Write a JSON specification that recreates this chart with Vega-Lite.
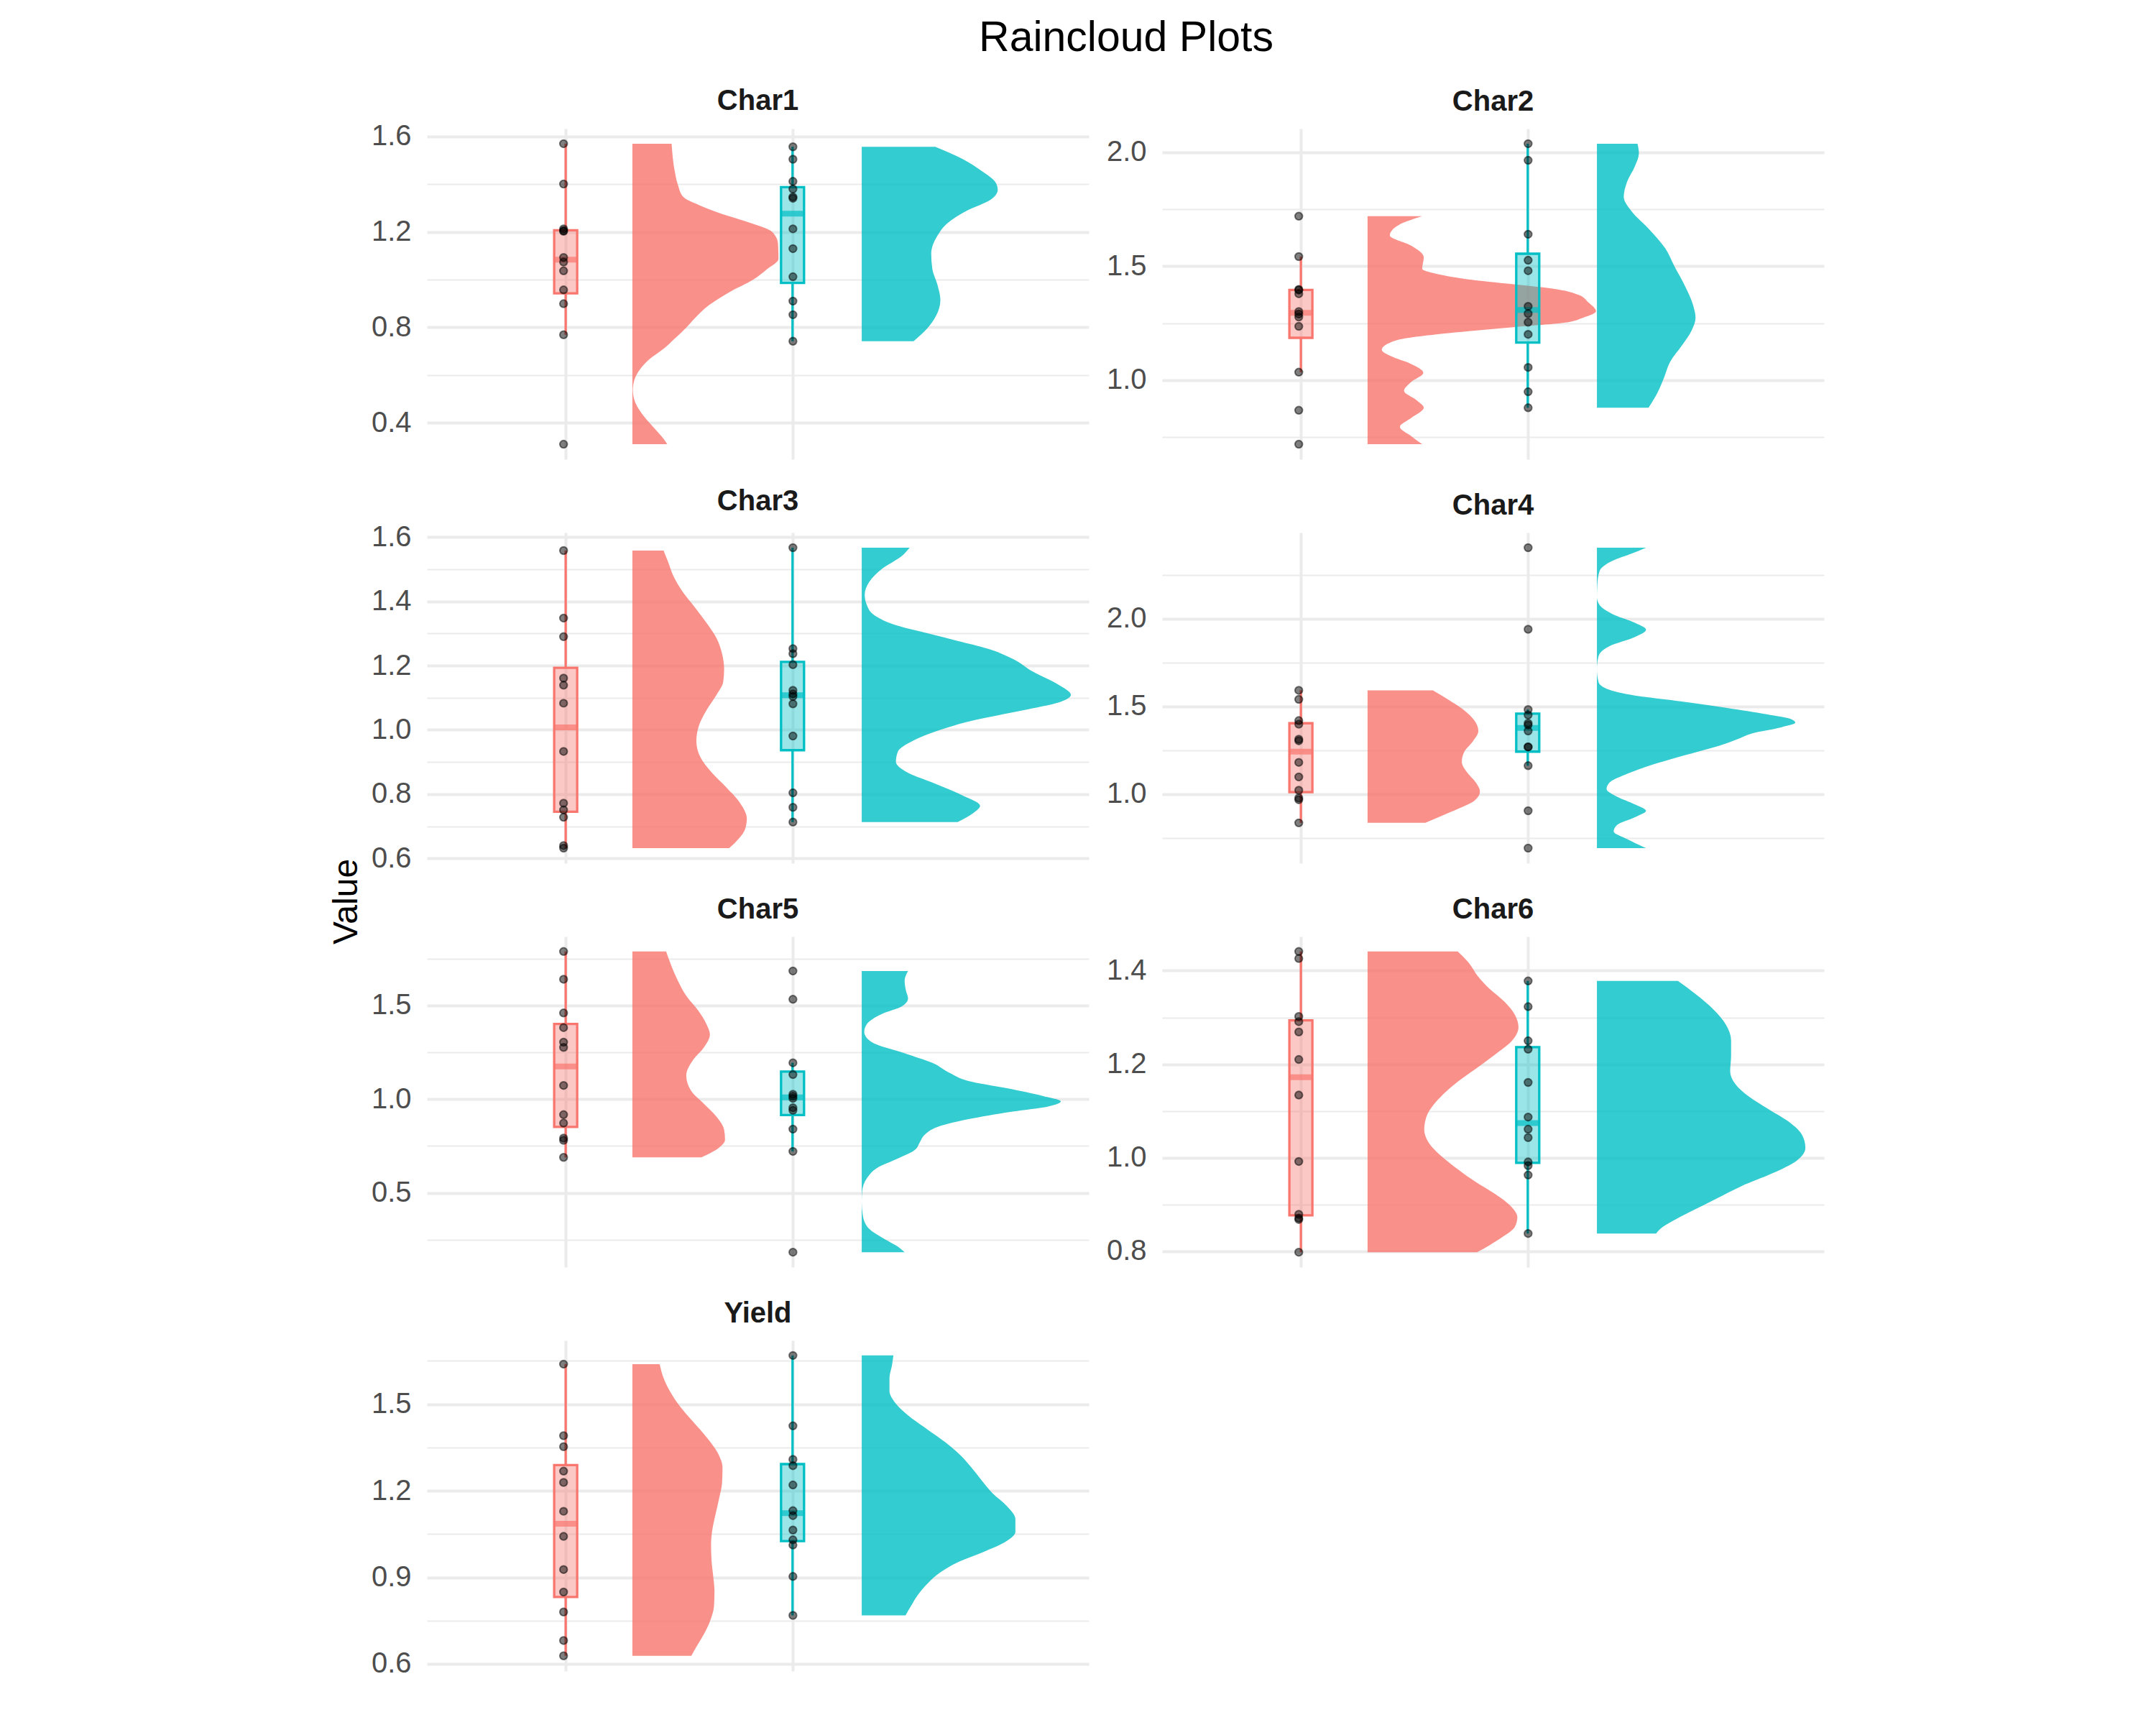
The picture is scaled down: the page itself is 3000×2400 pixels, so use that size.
{
"$schema": "https://vega.github.io/schema/vega-lite/v6.json",
"padding": {"left": 458, "top": 23, "right": 5, "bottom": 5},
"title": {"text": "Raincloud Plots", "fontSize": 59, "fontWeight": "normal", "color": "black", "anchor": "middle", "frame": "bounds", "dx": 69, "baseline": "alphabetic", "offset": -9, "font": "Liberation Sans"},
"config": {"view": {"stroke": null}, "font": "Liberation Sans", "title": {"font": "Liberation Sans"}},
"columns": 2,
"spacing": 102,
"bounds": "flush",
"datasets": {
"obs": [
{"Trait":"Char1","Group":1,"Value":1.570},{"Trait":"Char1","Group":1,"Value":1.401},{"Trait":"Char1","Group":1,"Value":1.203},{"Trait":"Char1","Group":1,"Value":1.213},{"Trait":"Char1","Group":1,"Value":1.205},{"Trait":"Char1","Group":1,"Value":1.093},{"Trait":"Char1","Group":1,"Value":1.074},{"Trait":"Char1","Group":1,"Value":1.037},{"Trait":"Char1","Group":1,"Value":0.957},{"Trait":"Char1","Group":1,"Value":0.899},{"Trait":"Char1","Group":1,"Value":0.769},{"Trait":"Char1","Group":1,"Value":0.310},
{"Trait":"Char1","Group":2,"Value":1.557},{"Trait":"Char1","Group":2,"Value":1.505},{"Trait":"Char1","Group":2,"Value":1.412},{"Trait":"Char1","Group":2,"Value":1.380},{"Trait":"Char1","Group":2,"Value":1.347},{"Trait":"Char1","Group":2,"Value":1.341},{"Trait":"Char1","Group":2,"Value":1.213},{"Trait":"Char1","Group":2,"Value":1.130},{"Trait":"Char1","Group":2,"Value":1.012},{"Trait":"Char1","Group":2,"Value":0.910},{"Trait":"Char1","Group":2,"Value":0.853},{"Trait":"Char1","Group":2,"Value":0.742},
{"Trait":"Char2","Group":1,"Value":1.719},{"Trait":"Char2","Group":1,"Value":1.542},{"Trait":"Char2","Group":1,"Value":1.395},{"Trait":"Char2","Group":1,"Value":1.398},{"Trait":"Char2","Group":1,"Value":1.379},{"Trait":"Char2","Group":1,"Value":1.301},{"Trait":"Char2","Group":1,"Value":1.290},{"Trait":"Char2","Group":1,"Value":1.277},{"Trait":"Char2","Group":1,"Value":1.236},{"Trait":"Char2","Group":1,"Value":1.035},{"Trait":"Char2","Group":1,"Value":0.868},{"Trait":"Char2","Group":1,"Value":0.719},
{"Trait":"Char2","Group":2,"Value":2.037},{"Trait":"Char2","Group":2,"Value":1.964},{"Trait":"Char2","Group":2,"Value":1.640},{"Trait":"Char2","Group":2,"Value":1.526},{"Trait":"Char2","Group":2,"Value":1.480},{"Trait":"Char2","Group":2,"Value":1.324},{"Trait":"Char2","Group":2,"Value":1.292},{"Trait":"Char2","Group":2,"Value":1.254},{"Trait":"Char2","Group":2,"Value":1.201},{"Trait":"Char2","Group":2,"Value":1.056},{"Trait":"Char2","Group":2,"Value":0.949},{"Trait":"Char2","Group":2,"Value":0.879},
{"Trait":"Char3","Group":1,"Value":1.558},{"Trait":"Char3","Group":1,"Value":1.348},{"Trait":"Char3","Group":1,"Value":1.290},{"Trait":"Char3","Group":1,"Value":1.161},{"Trait":"Char3","Group":1,"Value":1.139},{"Trait":"Char3","Group":1,"Value":1.083},{"Trait":"Char3","Group":1,"Value":0.933},{"Trait":"Char3","Group":1,"Value":0.772},{"Trait":"Char3","Group":1,"Value":0.751},{"Trait":"Char3","Group":1,"Value":0.728},{"Trait":"Char3","Group":1,"Value":0.640},{"Trait":"Char3","Group":1,"Value":0.632},
{"Trait":"Char3","Group":2,"Value":1.567},{"Trait":"Char3","Group":2,"Value":1.253},{"Trait":"Char3","Group":2,"Value":1.237},{"Trait":"Char3","Group":2,"Value":1.203},{"Trait":"Char3","Group":2,"Value":1.123},{"Trait":"Char3","Group":2,"Value":1.104},{"Trait":"Char3","Group":2,"Value":1.112},{"Trait":"Char3","Group":2,"Value":1.081},{"Trait":"Char3","Group":2,"Value":0.981},{"Trait":"Char3","Group":2,"Value":0.804},{"Trait":"Char3","Group":2,"Value":0.759},{"Trait":"Char3","Group":2,"Value":0.713},
{"Trait":"Char4","Group":1,"Value":1.592},{"Trait":"Char4","Group":1,"Value":1.540},{"Trait":"Char4","Group":1,"Value":1.419},{"Trait":"Char4","Group":1,"Value":1.399},{"Trait":"Char4","Group":1,"Value":1.304},{"Trait":"Char4","Group":1,"Value":1.313},{"Trait":"Char4","Group":1,"Value":1.181},{"Trait":"Char4","Group":1,"Value":1.098},{"Trait":"Char4","Group":1,"Value":1.022},{"Trait":"Char4","Group":1,"Value":0.978},{"Trait":"Char4","Group":1,"Value":0.968},{"Trait":"Char4","Group":1,"Value":0.836},
{"Trait":"Char4","Group":2,"Value":2.405},{"Trait":"Char4","Group":2,"Value":1.940},{"Trait":"Char4","Group":2,"Value":1.482},{"Trait":"Char4","Group":2,"Value":1.451},{"Trait":"Char4","Group":2,"Value":1.404},{"Trait":"Char4","Group":2,"Value":1.394},{"Trait":"Char4","Group":2,"Value":1.360},{"Trait":"Char4","Group":2,"Value":1.269},{"Trait":"Char4","Group":2,"Value":1.269},{"Trait":"Char4","Group":2,"Value":1.162},{"Trait":"Char4","Group":2,"Value":0.905},{"Trait":"Char4","Group":2,"Value":0.692},
{"Trait":"Char5","Group":1,"Value":1.788},{"Trait":"Char5","Group":1,"Value":1.640},{"Trait":"Char5","Group":1,"Value":1.460},{"Trait":"Char5","Group":1,"Value":1.382},{"Trait":"Char5","Group":1,"Value":1.304},{"Trait":"Char5","Group":1,"Value":1.276},{"Trait":"Char5","Group":1,"Value":1.073},{"Trait":"Char5","Group":1,"Value":0.917},{"Trait":"Char5","Group":1,"Value":0.872},{"Trait":"Char5","Group":1,"Value":0.792},{"Trait":"Char5","Group":1,"Value":0.780},{"Trait":"Char5","Group":1,"Value":0.689},
{"Trait":"Char5","Group":2,"Value":1.684},{"Trait":"Char5","Group":2,"Value":1.533},{"Trait":"Char5","Group":2,"Value":1.194},{"Trait":"Char5","Group":2,"Value":1.131},{"Trait":"Char5","Group":2,"Value":1.026},{"Trait":"Char5","Group":2,"Value":1.015},{"Trait":"Char5","Group":2,"Value":1.004},{"Trait":"Char5","Group":2,"Value":0.954},{"Trait":"Char5","Group":2,"Value":0.940},{"Trait":"Char5","Group":2,"Value":0.840},{"Trait":"Char5","Group":2,"Value":0.721},{"Trait":"Char5","Group":2,"Value":0.183},
{"Trait":"Char6","Group":1,"Value":1.441},{"Trait":"Char6","Group":1,"Value":1.426},{"Trait":"Char6","Group":1,"Value":1.302},{"Trait":"Char6","Group":1,"Value":1.291},{"Trait":"Char6","Group":1,"Value":1.269},{"Trait":"Char6","Group":1,"Value":1.210},{"Trait":"Char6","Group":1,"Value":1.134},{"Trait":"Char6","Group":1,"Value":0.992},{"Trait":"Char6","Group":1,"Value":0.871},{"Trait":"Char6","Group":1,"Value":0.879},{"Trait":"Char6","Group":1,"Value":0.868},{"Trait":"Char6","Group":1,"Value":0.798},
{"Trait":"Char6","Group":2,"Value":1.378},{"Trait":"Char6","Group":2,"Value":1.323},{"Trait":"Char6","Group":2,"Value":1.250},{"Trait":"Char6","Group":2,"Value":1.232},{"Trait":"Char6","Group":2,"Value":1.161},{"Trait":"Char6","Group":2,"Value":1.087},{"Trait":"Char6","Group":2,"Value":1.061},{"Trait":"Char6","Group":2,"Value":1.043},{"Trait":"Char6","Group":2,"Value":0.991},{"Trait":"Char6","Group":2,"Value":0.983},{"Trait":"Char6","Group":2,"Value":0.963},{"Trait":"Char6","Group":2,"Value":0.838},
{"Trait":"Yield","Group":1,"Value":1.639},{"Trait":"Yield","Group":1,"Value":1.391},{"Trait":"Yield","Group":1,"Value":1.353},{"Trait":"Yield","Group":1,"Value":1.268},{"Trait":"Yield","Group":1,"Value":1.229},{"Trait":"Yield","Group":1,"Value":1.129},{"Trait":"Yield","Group":1,"Value":1.042},{"Trait":"Yield","Group":1,"Value":0.927},{"Trait":"Yield","Group":1,"Value":0.849},{"Trait":"Yield","Group":1,"Value":0.780},{"Trait":"Yield","Group":1,"Value":0.681},{"Trait":"Yield","Group":1,"Value":0.628},
{"Trait":"Yield","Group":2,"Value":1.669},{"Trait":"Yield","Group":2,"Value":1.425},{"Trait":"Yield","Group":2,"Value":1.309},{"Trait":"Yield","Group":2,"Value":1.287},{"Trait":"Yield","Group":2,"Value":1.220},{"Trait":"Yield","Group":2,"Value":1.131},{"Trait":"Yield","Group":2,"Value":1.114},{"Trait":"Yield","Group":2,"Value":1.064},{"Trait":"Yield","Group":2,"Value":1.030},{"Trait":"Yield","Group":2,"Value":1.012},{"Trait":"Yield","Group":2,"Value":0.903},{"Trait":"Yield","Group":2,"Value":0.768}
],
"dens": [
{"Trait":"Char1","Group":1,"Value":1.570,"Density":0.171},{"Trait":"Char1","Group":1,"Value":1.453,"Density":0.185},{"Trait":"Char1","Group":1,"Value":1.399,"Density":0.198},{"Trait":"Char1","Group":1,"Value":1.345,"Density":0.224},{"Trait":"Char1","Group":1,"Value":1.313,"Density":0.290},{"Trait":"Char1","Group":1,"Value":1.280,"Density":0.378},{"Trait":"Char1","Group":1,"Value":1.243,"Density":0.499},{"Trait":"Char1","Group":1,"Value":1.201,"Density":0.609},{"Trait":"Char1","Group":1,"Value":1.151,"Density":0.635},{"Trait":"Char1","Group":1,"Value":1.087,"Density":0.637},{"Trait":"Char1","Group":1,"Value":1.044,"Density":0.587},{"Trait":"Char1","Group":1,"Value":1.000,"Density":0.527},{"Trait":"Char1","Group":1,"Value":0.947,"Density":0.422},{"Trait":"Char1","Group":1,"Value":0.893,"Density":0.334},{"Trait":"Char1","Group":1,"Value":0.839,"Density":0.273},{"Trait":"Char1","Group":1,"Value":0.799,"Density":0.235},{"Trait":"Char1","Group":1,"Value":0.753,"Density":0.185},{"Trait":"Char1","Group":1,"Value":0.710,"Density":0.136},{"Trait":"Char1","Group":1,"Value":0.667,"Density":0.075},{"Trait":"Char1","Group":1,"Value":0.624,"Density":0.033},{"Trait":"Char1","Group":1,"Value":0.581,"Density":0.009},{"Trait":"Char1","Group":1,"Value":0.538,"Density":0.002},{"Trait":"Char1","Group":1,"Value":0.484,"Density":0.013},{"Trait":"Char1","Group":1,"Value":0.430,"Density":0.048},{"Trait":"Char1","Group":1,"Value":0.376,"Density":0.097},{"Trait":"Char1","Group":1,"Value":0.333,"Density":0.136},{"Trait":"Char1","Group":1,"Value":0.310,"Density":0.152},
{"Trait":"Char1","Group":2,"Value":1.557,"Density":0.321},{"Trait":"Char1","Group":2,"Value":1.506,"Density":0.440},{"Trait":"Char1","Group":2,"Value":1.453,"Density":0.527},{"Trait":"Char1","Group":2,"Value":1.410,"Density":0.582},{"Trait":"Char1","Group":2,"Value":1.377,"Density":0.593},{"Trait":"Char1","Group":2,"Value":1.334,"Density":0.560},{"Trait":"Char1","Group":2,"Value":1.291,"Density":0.462},{"Trait":"Char1","Group":2,"Value":1.237,"Density":0.374},{"Trait":"Char1","Group":2,"Value":1.184,"Density":0.330},{"Trait":"Char1","Group":2,"Value":1.108,"Density":0.303},{"Trait":"Char1","Group":2,"Value":1.044,"Density":0.308},{"Trait":"Char1","Group":2,"Value":0.979,"Density":0.330},{"Trait":"Char1","Group":2,"Value":0.914,"Density":0.343},{"Trait":"Char1","Group":2,"Value":0.850,"Density":0.325},{"Trait":"Char1","Group":2,"Value":0.796,"Density":0.286},{"Trait":"Char1","Group":2,"Value":0.742,"Density":0.226},
{"Trait":"Char2","Group":1,"Value":1.719,"Density":0.238},{"Trait":"Char2","Group":1,"Value":1.680,"Density":0.135},{"Trait":"Char2","Group":1,"Value":1.635,"Density":0.097},{"Trait":"Char2","Group":1,"Value":1.590,"Density":0.190},{"Trait":"Char2","Group":1,"Value":1.539,"Density":0.245},{"Trait":"Char2","Group":1,"Value":1.488,"Density":0.238},{"Trait":"Char2","Group":1,"Value":1.466,"Density":0.300},{"Trait":"Char2","Group":1,"Value":1.443,"Density":0.433},{"Trait":"Char2","Group":1,"Value":1.421,"Density":0.631},{"Trait":"Char2","Group":1,"Value":1.398,"Density":0.830},{"Trait":"Char2","Group":1,"Value":1.375,"Density":0.918},{"Trait":"Char2","Group":1,"Value":1.342,"Density":0.962},{"Trait":"Char2","Group":1,"Value":1.302,"Density":0.996},{"Trait":"Char2","Group":1,"Value":1.274,"Density":0.940},{"Trait":"Char2","Group":1,"Value":1.251,"Density":0.852},{"Trait":"Char2","Group":1,"Value":1.234,"Density":0.653},{"Trait":"Char2","Group":1,"Value":1.218,"Density":0.477},{"Trait":"Char2","Group":1,"Value":1.201,"Density":0.300},{"Trait":"Char2","Group":1,"Value":1.184,"Density":0.168},{"Trait":"Char2","Group":1,"Value":1.161,"Density":0.091},{"Trait":"Char2","Group":1,"Value":1.133,"Density":0.062},{"Trait":"Char2","Group":1,"Value":1.105,"Density":0.102},{"Trait":"Char2","Group":1,"Value":1.071,"Density":0.190},{"Trait":"Char2","Group":1,"Value":1.032,"Density":0.243},{"Trait":"Char2","Group":1,"Value":0.992,"Density":0.190},{"Trait":"Char2","Group":1,"Value":0.953,"Density":0.159},{"Trait":"Char2","Group":1,"Value":0.913,"Density":0.212},{"Trait":"Char2","Group":1,"Value":0.879,"Density":0.245},{"Trait":"Char2","Group":1,"Value":0.834,"Density":0.190},{"Trait":"Char2","Group":1,"Value":0.795,"Density":0.141},{"Trait":"Char2","Group":1,"Value":0.755,"Density":0.190},{"Trait":"Char2","Group":1,"Value":0.719,"Density":0.238},
{"Trait":"Char2","Group":2,"Value":2.037,"Density":0.177},{"Trait":"Char2","Group":2,"Value":1.995,"Density":0.183},{"Trait":"Char2","Group":2,"Value":1.939,"Density":0.166},{"Trait":"Char2","Group":2,"Value":1.871,"Density":0.132},{"Trait":"Char2","Group":2,"Value":1.804,"Density":0.117},{"Trait":"Char2","Group":2,"Value":1.736,"Density":0.155},{"Trait":"Char2","Group":2,"Value":1.669,"Density":0.221},{"Trait":"Char2","Group":2,"Value":1.578,"Density":0.298},{"Trait":"Char2","Group":2,"Value":1.499,"Density":0.338},{"Trait":"Char2","Group":2,"Value":1.409,"Density":0.386},{"Trait":"Char2","Group":2,"Value":1.330,"Density":0.419},{"Trait":"Char2","Group":2,"Value":1.274,"Density":0.430},{"Trait":"Char2","Group":2,"Value":1.218,"Density":0.413},{"Trait":"Char2","Group":2,"Value":1.150,"Density":0.369},{"Trait":"Char2","Group":2,"Value":1.082,"Density":0.320},{"Trait":"Char2","Group":2,"Value":1.015,"Density":0.294},{"Trait":"Char2","Group":2,"Value":0.947,"Density":0.265},{"Trait":"Char2","Group":2,"Value":0.879,"Density":0.225},
{"Trait":"Char3","Group":1,"Value":1.558,"Density":0.136},{"Trait":"Char3","Group":1,"Value":1.526,"Density":0.154},{"Trait":"Char3","Group":1,"Value":1.477,"Density":0.180},{"Trait":"Char3","Group":1,"Value":1.429,"Density":0.220},{"Trait":"Char3","Group":1,"Value":1.381,"Density":0.273},{"Trait":"Char3","Group":1,"Value":1.333,"Density":0.323},{"Trait":"Char3","Group":1,"Value":1.285,"Density":0.367},{"Trait":"Char3","Group":1,"Value":1.237,"Density":0.391},{"Trait":"Char3","Group":1,"Value":1.189,"Density":0.400},{"Trait":"Char3","Group":1,"Value":1.149,"Density":0.396},{"Trait":"Char3","Group":1,"Value":1.109,"Density":0.367},{"Trait":"Char3","Group":1,"Value":1.061,"Density":0.323},{"Trait":"Char3","Group":1,"Value":1.013,"Density":0.290},{"Trait":"Char3","Group":1,"Value":0.965,"Density":0.279},{"Trait":"Char3","Group":1,"Value":0.917,"Density":0.295},{"Trait":"Char3","Group":1,"Value":0.868,"Density":0.345},{"Trait":"Char3","Group":1,"Value":0.820,"Density":0.411},{"Trait":"Char3","Group":1,"Value":0.772,"Density":0.470},{"Trait":"Char3","Group":1,"Value":0.724,"Density":0.499},{"Trait":"Char3","Group":1,"Value":0.692,"Density":0.492},{"Trait":"Char3","Group":1,"Value":0.660,"Density":0.462},{"Trait":"Char3","Group":1,"Value":0.632,"Density":0.422},
{"Trait":"Char3","Group":2,"Value":1.567,"Density":0.209},{"Trait":"Char3","Group":2,"Value":1.542,"Density":0.176},{"Trait":"Char3","Group":2,"Value":1.501,"Density":0.088},{"Trait":"Char3","Group":2,"Value":1.461,"Density":0.033},{"Trait":"Char3","Group":2,"Value":1.421,"Density":0.013},{"Trait":"Char3","Group":2,"Value":1.389,"Density":0.022},{"Trait":"Char3","Group":2,"Value":1.357,"Density":0.055},{"Trait":"Char3","Group":2,"Value":1.325,"Density":0.154},{"Trait":"Char3","Group":2,"Value":1.301,"Density":0.286},{"Trait":"Char3","Group":2,"Value":1.277,"Density":0.418},{"Trait":"Char3","Group":2,"Value":1.253,"Density":0.549},{"Trait":"Char3","Group":2,"Value":1.221,"Density":0.659},{"Trait":"Char3","Group":2,"Value":1.181,"Density":0.747},{"Trait":"Char3","Group":2,"Value":1.141,"Density":0.857},{"Trait":"Char3","Group":2,"Value":1.109,"Density":0.912},{"Trait":"Char3","Group":2,"Value":1.085,"Density":0.857},{"Trait":"Char3","Group":2,"Value":1.061,"Density":0.703},{"Trait":"Char3","Group":2,"Value":1.029,"Density":0.484},{"Trait":"Char3","Group":2,"Value":0.997,"Density":0.330},{"Trait":"Char3","Group":2,"Value":0.965,"Density":0.220},{"Trait":"Char3","Group":2,"Value":0.933,"Density":0.158},{"Trait":"Char3","Group":2,"Value":0.901,"Density":0.149},{"Trait":"Char3","Group":2,"Value":0.868,"Density":0.198},{"Trait":"Char3","Group":2,"Value":0.836,"Density":0.308},{"Trait":"Char3","Group":2,"Value":0.796,"Density":0.440},{"Trait":"Char3","Group":2,"Value":0.764,"Density":0.516},{"Trait":"Char3","Group":2,"Value":0.740,"Density":0.484},{"Trait":"Char3","Group":2,"Value":0.713,"Density":0.418},
{"Trait":"Char4","Group":1,"Value":1.592,"Density":0.285},{"Trait":"Char4","Group":1,"Value":1.536,"Density":0.355},{"Trait":"Char4","Group":1,"Value":1.477,"Density":0.422},{"Trait":"Char4","Group":1,"Value":1.419,"Density":0.466},{"Trait":"Char4","Group":1,"Value":1.360,"Density":0.483},{"Trait":"Char4","Group":1,"Value":1.301,"Density":0.459},{"Trait":"Char4","Group":1,"Value":1.242,"Density":0.422},{"Trait":"Char4","Group":1,"Value":1.184,"Density":0.411},{"Trait":"Char4","Group":1,"Value":1.125,"Density":0.433},{"Trait":"Char4","Group":1,"Value":1.066,"Density":0.472},{"Trait":"Char4","Group":1,"Value":1.015,"Density":0.490},{"Trait":"Char4","Group":1,"Value":0.963,"Density":0.466},{"Trait":"Char4","Group":1,"Value":0.919,"Density":0.400},{"Trait":"Char4","Group":1,"Value":0.875,"Density":0.322},{"Trait":"Char4","Group":1,"Value":0.836,"Density":0.252},
{"Trait":"Char4","Group":2,"Value":2.405,"Density":0.214},{"Trait":"Char4","Group":2,"Value":2.373,"Density":0.155},{"Trait":"Char4","Group":2,"Value":2.329,"Density":0.066},{"Trait":"Char4","Group":2,"Value":2.270,"Density":0.011},{"Trait":"Char4","Group":2,"Value":2.197,"Density":0.002},{"Trait":"Char4","Group":2,"Value":2.123,"Density":0.0},{"Trait":"Char4","Group":2,"Value":2.079,"Density":0.011},{"Trait":"Char4","Group":2,"Value":2.021,"Density":0.077},{"Trait":"Char4","Group":2,"Value":1.977,"Density":0.166},{"Trait":"Char4","Group":2,"Value":1.937,"Density":0.214},{"Trait":"Char4","Group":2,"Value":1.896,"Density":0.166},{"Trait":"Char4","Group":2,"Value":1.844,"Density":0.055},{"Trait":"Char4","Group":2,"Value":1.786,"Density":0.007},{"Trait":"Char4","Group":2,"Value":1.712,"Density":0.0},{"Trait":"Char4","Group":2,"Value":1.639,"Density":0.007},{"Trait":"Char4","Group":2,"Value":1.595,"Density":0.055},{"Trait":"Char4","Group":2,"Value":1.558,"Density":0.188},{"Trait":"Char4","Group":2,"Value":1.529,"Density":0.364},{"Trait":"Char4","Group":2,"Value":1.492,"Density":0.563},{"Trait":"Char4","Group":2,"Value":1.455,"Density":0.740},{"Trait":"Char4","Group":2,"Value":1.426,"Density":0.850},{"Trait":"Char4","Group":2,"Value":1.407,"Density":0.865},{"Trait":"Char4","Group":2,"Value":1.382,"Density":0.806},{"Trait":"Char4","Group":2,"Value":1.345,"Density":0.673},{"Trait":"Char4","Group":2,"Value":1.316,"Density":0.618},{"Trait":"Char4","Group":2,"Value":1.279,"Density":0.541},{"Trait":"Char4","Group":2,"Value":1.242,"Density":0.441},{"Trait":"Char4","Group":2,"Value":1.198,"Density":0.320},{"Trait":"Char4","Group":2,"Value":1.154,"Density":0.210},{"Trait":"Char4","Group":2,"Value":1.110,"Density":0.121},{"Trait":"Char4","Group":2,"Value":1.066,"Density":0.055},{"Trait":"Char4","Group":2,"Value":1.029,"Density":0.042},{"Trait":"Char4","Group":2,"Value":0.985,"Density":0.088},{"Trait":"Char4","Group":2,"Value":0.941,"Density":0.166},{"Trait":"Char4","Group":2,"Value":0.905,"Density":0.214},{"Trait":"Char4","Group":2,"Value":0.868,"Density":0.166},{"Trait":"Char4","Group":2,"Value":0.824,"Density":0.088},{"Trait":"Char4","Group":2,"Value":0.787,"Density":0.073},{"Trait":"Char4","Group":2,"Value":0.743,"Density":0.132},{"Trait":"Char4","Group":2,"Value":0.692,"Density":0.214},
{"Trait":"Char5","Group":1,"Value":1.788,"Density":0.147},{"Trait":"Char5","Group":1,"Value":1.715,"Density":0.169},{"Trait":"Char5","Group":1,"Value":1.633,"Density":0.198},{"Trait":"Char5","Group":1,"Value":1.551,"Density":0.235},{"Trait":"Char5","Group":1,"Value":1.468,"Density":0.290},{"Trait":"Char5","Group":1,"Value":1.400,"Density":0.323},{"Trait":"Char5","Group":1,"Value":1.345,"Density":0.338},{"Trait":"Char5","Group":1,"Value":1.276,"Density":0.312},{"Trait":"Char5","Group":1,"Value":1.208,"Density":0.264},{"Trait":"Char5","Group":1,"Value":1.126,"Density":0.235},{"Trait":"Char5","Group":1,"Value":1.043,"Density":0.257},{"Trait":"Char5","Group":1,"Value":0.975,"Density":0.312},{"Trait":"Char5","Group":1,"Value":0.906,"Density":0.367},{"Trait":"Char5","Group":1,"Value":0.837,"Density":0.400},{"Trait":"Char5","Group":1,"Value":0.783,"Density":0.404},{"Trait":"Char5","Group":1,"Value":0.741,"Density":0.378},{"Trait":"Char5","Group":1,"Value":0.689,"Density":0.301},
{"Trait":"Char5","Group":2,"Value":1.684,"Density":0.202},{"Trait":"Char5","Group":2,"Value":1.633,"Density":0.187},{"Trait":"Char5","Group":2,"Value":1.578,"Density":0.193},{"Trait":"Char5","Group":2,"Value":1.537,"Density":0.202},{"Trait":"Char5","Group":2,"Value":1.496,"Density":0.176},{"Trait":"Char5","Group":2,"Value":1.455,"Density":0.088},{"Trait":"Char5","Group":2,"Value":1.400,"Density":0.022},{"Trait":"Char5","Group":2,"Value":1.359,"Density":0.011},{"Trait":"Char5","Group":2,"Value":1.304,"Density":0.044},{"Trait":"Char5","Group":2,"Value":1.249,"Density":0.176},{"Trait":"Char5","Group":2,"Value":1.194,"Density":0.308},{"Trait":"Char5","Group":2,"Value":1.139,"Density":0.385},{"Trait":"Char5","Group":2,"Value":1.098,"Density":0.462},{"Trait":"Char5","Group":2,"Value":1.057,"Density":0.637},{"Trait":"Char5","Group":2,"Value":1.016,"Density":0.791},{"Trait":"Char5","Group":2,"Value":0.988,"Density":0.868},{"Trait":"Char5","Group":2,"Value":0.961,"Density":0.813},{"Trait":"Char5","Group":2,"Value":0.934,"Density":0.659},{"Trait":"Char5","Group":2,"Value":0.892,"Density":0.462},{"Trait":"Char5","Group":2,"Value":0.851,"Density":0.330},{"Trait":"Char5","Group":2,"Value":0.810,"Density":0.275},{"Trait":"Char5","Group":2,"Value":0.769,"Density":0.253},{"Trait":"Char5","Group":2,"Value":0.728,"Density":0.231},{"Trait":"Char5","Group":2,"Value":0.687,"Density":0.165},{"Trait":"Char5","Group":2,"Value":0.632,"Density":0.066},{"Trait":"Char5","Group":2,"Value":0.577,"Density":0.022},{"Trait":"Char5","Group":2,"Value":0.508,"Density":0.002},{"Trait":"Char5","Group":2,"Value":0.453,"Density":0.0},{"Trait":"Char5","Group":2,"Value":0.385,"Density":0.004},{"Trait":"Char5","Group":2,"Value":0.316,"Density":0.026},{"Trait":"Char5","Group":2,"Value":0.261,"Density":0.088},{"Trait":"Char5","Group":2,"Value":0.206,"Density":0.165},{"Trait":"Char5","Group":2,"Value":0.183,"Density":0.187},
{"Trait":"Char6","Group":1,"Value":1.441,"Density":0.393},{"Trait":"Char6","Group":1,"Value":1.415,"Density":0.444},{"Trait":"Char6","Group":1,"Value":1.388,"Density":0.481},{"Trait":"Char6","Group":1,"Value":1.361,"Density":0.532},{"Trait":"Char6","Group":1,"Value":1.333,"Density":0.598},{"Trait":"Char6","Group":1,"Value":1.306,"Density":0.642},{"Trait":"Char6","Group":1,"Value":1.279,"Density":0.658},{"Trait":"Char6","Group":1,"Value":1.251,"Density":0.631},{"Trait":"Char6","Group":1,"Value":1.224,"Density":0.565},{"Trait":"Char6","Group":1,"Value":1.196,"Density":0.488},{"Trait":"Char6","Group":1,"Value":1.169,"Density":0.411},{"Trait":"Char6","Group":1,"Value":1.142,"Density":0.344},{"Trait":"Char6","Group":1,"Value":1.114,"Density":0.289},{"Trait":"Char6","Group":1,"Value":1.087,"Density":0.256},{"Trait":"Char6","Group":1,"Value":1.060,"Density":0.247},{"Trait":"Char6","Group":1,"Value":1.032,"Density":0.267},{"Trait":"Char6","Group":1,"Value":1.005,"Density":0.318},{"Trait":"Char6","Group":1,"Value":0.977,"Density":0.389},{"Trait":"Char6","Group":1,"Value":0.950,"Density":0.466},{"Trait":"Char6","Group":1,"Value":0.923,"Density":0.554},{"Trait":"Char6","Group":1,"Value":0.895,"Density":0.627},{"Trait":"Char6","Group":1,"Value":0.873,"Density":0.653},{"Trait":"Char6","Group":1,"Value":0.852,"Density":0.642},{"Trait":"Char6","Group":1,"Value":0.830,"Density":0.587},{"Trait":"Char6","Group":1,"Value":0.813,"Density":0.532},{"Trait":"Char6","Group":1,"Value":0.798,"Density":0.477},
{"Trait":"Char6","Group":2,"Value":1.378,"Density":0.353},{"Trait":"Char6","Group":2,"Value":1.350,"Density":0.430},{"Trait":"Char6","Group":2,"Value":1.317,"Density":0.508},{"Trait":"Char6","Group":2,"Value":1.284,"Density":0.563},{"Trait":"Char6","Group":2,"Value":1.251,"Density":0.585},{"Trait":"Char6","Group":2,"Value":1.218,"Density":0.585},{"Trait":"Char6","Group":2,"Value":1.185,"Density":0.581},{"Trait":"Char6","Group":2,"Value":1.158,"Density":0.603},{"Trait":"Char6","Group":2,"Value":1.131,"Density":0.662},{"Trait":"Char6","Group":2,"Value":1.103,"Density":0.751},{"Trait":"Char6","Group":2,"Value":1.076,"Density":0.839},{"Trait":"Char6","Group":2,"Value":1.049,"Density":0.894},{"Trait":"Char6","Group":2,"Value":1.021,"Density":0.909},{"Trait":"Char6","Group":2,"Value":0.994,"Density":0.872},{"Trait":"Char6","Group":2,"Value":0.966,"Density":0.762},{"Trait":"Char6","Group":2,"Value":0.939,"Density":0.629},{"Trait":"Char6","Group":2,"Value":0.912,"Density":0.519},{"Trait":"Char6","Group":2,"Value":0.890,"Density":0.430},{"Trait":"Char6","Group":2,"Value":0.868,"Density":0.342},{"Trait":"Char6","Group":2,"Value":0.852,"Density":0.287},{"Trait":"Char6","Group":2,"Value":0.838,"Density":0.258},
{"Trait":"Yield","Group":1,"Value":1.639,"Density":0.119},{"Trait":"Yield","Group":1,"Value":1.591,"Density":0.136},{"Trait":"Yield","Group":1,"Value":1.546,"Density":0.163},{"Trait":"Yield","Group":1,"Value":1.493,"Density":0.207},{"Trait":"Yield","Group":1,"Value":1.440,"Density":0.264},{"Trait":"Yield","Group":1,"Value":1.386,"Density":0.323},{"Trait":"Yield","Group":1,"Value":1.333,"Density":0.371},{"Trait":"Yield","Group":1,"Value":1.280,"Density":0.393},{"Trait":"Yield","Group":1,"Value":1.227,"Density":0.391},{"Trait":"Yield","Group":1,"Value":1.173,"Density":0.378},{"Trait":"Yield","Group":1,"Value":1.120,"Density":0.363},{"Trait":"Yield","Group":1,"Value":1.067,"Density":0.349},{"Trait":"Yield","Group":1,"Value":1.014,"Density":0.343},{"Trait":"Yield","Group":1,"Value":0.960,"Density":0.345},{"Trait":"Yield","Group":1,"Value":0.907,"Density":0.352},{"Trait":"Yield","Group":1,"Value":0.854,"Density":0.358},{"Trait":"Yield","Group":1,"Value":0.801,"Density":0.356},{"Trait":"Yield","Group":1,"Value":0.747,"Density":0.338},{"Trait":"Yield","Group":1,"Value":0.703,"Density":0.312},{"Trait":"Yield","Group":1,"Value":0.659,"Density":0.279},{"Trait":"Yield","Group":1,"Value":0.628,"Density":0.257},
{"Trait":"Yield","Group":2,"Value":1.669,"Density":0.138},{"Trait":"Yield","Group":2,"Value":1.635,"Density":0.132},{"Trait":"Yield","Group":2,"Value":1.591,"Density":0.121},{"Trait":"Yield","Group":2,"Value":1.546,"Density":0.121},{"Trait":"Yield","Group":2,"Value":1.502,"Density":0.149},{"Trait":"Yield","Group":2,"Value":1.457,"Density":0.209},{"Trait":"Yield","Group":2,"Value":1.413,"Density":0.286},{"Trait":"Yield","Group":2,"Value":1.369,"Density":0.363},{"Trait":"Yield","Group":2,"Value":1.324,"Density":0.429},{"Trait":"Yield","Group":2,"Value":1.280,"Density":0.479},{"Trait":"Yield","Group":2,"Value":1.236,"Density":0.523},{"Trait":"Yield","Group":2,"Value":1.191,"Density":0.571},{"Trait":"Yield","Group":2,"Value":1.147,"Density":0.633},{"Trait":"Yield","Group":2,"Value":1.102,"Density":0.670},{"Trait":"Yield","Group":2,"Value":1.058,"Density":0.670},{"Trait":"Yield","Group":2,"Value":1.023,"Density":0.626},{"Trait":"Yield","Group":2,"Value":0.987,"Density":0.527},{"Trait":"Yield","Group":2,"Value":0.952,"Density":0.418},{"Trait":"Yield","Group":2,"Value":0.916,"Density":0.341},{"Trait":"Yield","Group":2,"Value":0.881,"Density":0.290},{"Trait":"Yield","Group":2,"Value":0.836,"Density":0.242},{"Trait":"Yield","Group":2,"Value":0.801,"Density":0.215},{"Trait":"Yield","Group":2,"Value":0.768,"Density":0.191}
]
},
"concat": [
{"width": 921, "height": 460,
 "title": {"text": "Char1", "fontSize": 40, "fontWeight": "bold", "color": "#1A1A1A", "anchor": "middle", "frame": "group", "baseline": "alphabetic", "offset": -23},
 "resolve": {"scale": {"x": "independent", "y": "independent"}},
 "layer": [
  {"data": {"name": "dens"}, "transform": [{"filter": "datum.Trait === 'Char1' && datum.Group === 1"}],
   "mark": {"type": "area", "orient": "horizontal", "color": "#F8766D", "opacity": 0.8, "interpolate": "monotone"},
   "encoding": {"y": {"field": "Value", "type": "quantitative", "scale": {"domain": [0.247, 1.633]}, "axis": {"orient": "left", "values": [0.6, 1.0, 1.4], "grid": true, "gridColor": "#EBEBEB", "gridWidth": 2, "labels": false, "ticks": false, "domain": false, "title": null}},
    "x": {"field": "Density", "type": "quantitative", "scale": {"domain": [-0.896, 1.99]}, "axis": null}, "x2": {"datum": 0}}},
  {"data": {"name": "dens"}, "transform": [{"filter": "datum.Trait === 'Char1' && datum.Group === 2"}],
   "mark": {"type": "area", "orient": "horizontal", "color": "#00BFC4", "opacity": 0.8, "interpolate": "monotone"},
   "encoding": {"y": {"field": "Value", "type": "quantitative", "scale": {"domain": [0.247, 1.633]}, "axis": null},
    "x": {"field": "Density", "type": "quantitative", "scale": {"domain": [-1.896, 0.99]}, "axis": null}, "x2": {"datum": 0}}},
  {"data": {"name": "obs"}, "transform": [{"filter": "datum.Trait === 'Char1' && datum.Group === 1"}],
   "mark": {"type": "boxplot", "orient": "vertical", "extent": 1.5, "size": 32, "outliers": false, "ticks": false, "box": {"fill": "#F8766D", "fillOpacity": 0.4, "stroke": "#F8766D", "strokeWidth": 3.3}, "median": {"color": "#F8766D", "thickness": 8}, "rule": {"stroke": "#F8766D", "strokeWidth": 3.3}},
   "encoding": {"x": {"field": "Group", "type": "quantitative", "scale": {"domain": [0.404, 3.29]}, "axis": {"values": [1, 2], "grid": true, "gridColor": "#EBEBEB", "gridWidth": 4, "labels": false, "ticks": false, "domain": false, "title": null}},
    "y": {"field": "Value", "type": "quantitative", "scale": {"domain": [0.247, 1.633]}, "axis": {"orient": "left", "values": [0.4, 0.8, 1.2, 1.6], "format": ".1f", "grid": true, "gridColor": "#EBEBEB", "gridWidth": 4, "ticks": false, "domain": false, "labelFontSize": 40, "labelColor": "#4D4D4D", "labelFont": "Liberation Sans", "labelPadding": 22, "title": null}}}},
  {"data": {"name": "obs"}, "transform": [{"filter": "datum.Trait === 'Char1' && datum.Group === 2"}],
   "mark": {"type": "boxplot", "orient": "vertical", "extent": 1.5, "size": 32, "outliers": false, "ticks": false, "box": {"fill": "#00BFC4", "fillOpacity": 0.4, "stroke": "#00BFC4", "strokeWidth": 3.3}, "median": {"color": "#00BFC4", "thickness": 8}, "rule": {"stroke": "#00BFC4", "strokeWidth": 3.3}},
   "encoding": {"x": {"field": "Group", "type": "quantitative", "scale": {"domain": [0.404, 3.29]}, "axis": null},
    "y": {"field": "Value", "type": "quantitative", "scale": {"domain": [0.247, 1.633]}, "axis": null}}},
  {"data": {"name": "obs"}, "transform": [{"filter": "datum.Trait === 'Char1'"}],
   "mark": {"type": "point", "filled": true, "color": "black", "fillOpacity": 0.5, "stroke": "black", "strokeOpacity": 0.5, "strokeWidth": 2, "size": 110},
   "encoding": {"x": {"field": "Group", "type": "quantitative", "scale": {"domain": [0.404, 3.29]}, "axis": null},
    "y": {"field": "Value", "type": "quantitative", "scale": {"domain": [0.247, 1.633]}, "axis": null}}}
 ]},
{"width": 921, "height": 460,
 "title": {"text": "Char2", "fontSize": 40, "fontWeight": "bold", "color": "#1A1A1A", "anchor": "middle", "frame": "group", "baseline": "alphabetic", "offset": -15},
 "resolve": {"scale": {"x": "independent", "y": "independent"}},
 "layer": [
  {"data": {"name": "dens"}, "transform": [{"filter": "datum.Trait === 'Char2' && datum.Group === 1"}],
   "mark": {"type": "area", "orient": "horizontal", "color": "#F8766D", "opacity": 0.8, "interpolate": "monotone"},
   "encoding": {"y": {"field": "Value", "type": "quantitative", "scale": {"domain": [0.653, 2.103]}, "axis": {"orient": "left", "values": [0.75, 1.25, 1.75], "grid": true, "gridColor": "#EBEBEB", "gridWidth": 2, "labels": false, "ticks": false, "domain": false, "title": null}},
    "x": {"field": "Density", "type": "quantitative", "scale": {"domain": [-0.896, 1.99]}, "axis": null}, "x2": {"datum": 0}}},
  {"data": {"name": "dens"}, "transform": [{"filter": "datum.Trait === 'Char2' && datum.Group === 2"}],
   "mark": {"type": "area", "orient": "horizontal", "color": "#00BFC4", "opacity": 0.8, "interpolate": "monotone"},
   "encoding": {"y": {"field": "Value", "type": "quantitative", "scale": {"domain": [0.653, 2.103]}, "axis": null},
    "x": {"field": "Density", "type": "quantitative", "scale": {"domain": [-1.896, 0.99]}, "axis": null}, "x2": {"datum": 0}}},
  {"data": {"name": "obs"}, "transform": [{"filter": "datum.Trait === 'Char2' && datum.Group === 1"}],
   "mark": {"type": "boxplot", "orient": "vertical", "extent": 1.5, "size": 32, "outliers": false, "ticks": false, "box": {"fill": "#F8766D", "fillOpacity": 0.4, "stroke": "#F8766D", "strokeWidth": 3.3}, "median": {"color": "#F8766D", "thickness": 8}, "rule": {"stroke": "#F8766D", "strokeWidth": 3.3}},
   "encoding": {"x": {"field": "Group", "type": "quantitative", "scale": {"domain": [0.404, 3.29]}, "axis": {"values": [1, 2], "grid": true, "gridColor": "#EBEBEB", "gridWidth": 4, "labels": false, "ticks": false, "domain": false, "title": null}},
    "y": {"field": "Value", "type": "quantitative", "scale": {"domain": [0.653, 2.103]}, "axis": {"orient": "left", "values": [1.0, 1.5, 2.0], "format": ".1f", "grid": true, "gridColor": "#EBEBEB", "gridWidth": 4, "ticks": false, "domain": false, "labelFontSize": 40, "labelColor": "#4D4D4D", "labelFont": "Liberation Sans", "labelPadding": 22, "title": null}}}},
  {"data": {"name": "obs"}, "transform": [{"filter": "datum.Trait === 'Char2' && datum.Group === 2"}],
   "mark": {"type": "boxplot", "orient": "vertical", "extent": 1.5, "size": 32, "outliers": false, "ticks": false, "box": {"fill": "#00BFC4", "fillOpacity": 0.4, "stroke": "#00BFC4", "strokeWidth": 3.3}, "median": {"color": "#00BFC4", "thickness": 8}, "rule": {"stroke": "#00BFC4", "strokeWidth": 3.3}},
   "encoding": {"x": {"field": "Group", "type": "quantitative", "scale": {"domain": [0.404, 3.29]}, "axis": null},
    "y": {"field": "Value", "type": "quantitative", "scale": {"domain": [0.653, 2.103]}, "axis": null}}},
  {"data": {"name": "obs"}, "transform": [{"filter": "datum.Trait === 'Char2'"}],
   "mark": {"type": "point", "filled": true, "color": "black", "fillOpacity": 0.5, "stroke": "black", "strokeOpacity": 0.5, "strokeWidth": 2, "size": 110},
   "encoding": {"x": {"field": "Group", "type": "quantitative", "scale": {"domain": [0.404, 3.29]}, "axis": null},
    "y": {"field": "Value", "type": "quantitative", "scale": {"domain": [0.653, 2.103]}, "axis": null}}}
 ]},
{"width": 921, "height": 460,
 "title": {"text": "Char3", "fontSize": 40, "fontWeight": "bold", "color": "#1A1A1A", "anchor": "middle", "frame": "group", "baseline": "alphabetic", "offset": -23},
 "resolve": {"scale": {"x": "independent", "y": "independent"}},
 "layer": [
  {"data": {"name": "dens"}, "transform": [{"filter": "datum.Trait === 'Char3' && datum.Group === 1"}],
   "mark": {"type": "area", "orient": "horizontal", "color": "#F8766D", "opacity": 0.8, "interpolate": "monotone"},
   "encoding": {"y": {"field": "Value", "type": "quantitative", "scale": {"domain": [0.585, 1.614]}, "axis": {"orient": "left", "values": [0.7, 0.9, 1.1, 1.3, 1.5], "grid": true, "gridColor": "#EBEBEB", "gridWidth": 2, "labels": false, "ticks": false, "domain": false, "title": null}},
    "x": {"field": "Density", "type": "quantitative", "scale": {"domain": [-0.896, 1.99]}, "axis": null}, "x2": {"datum": 0}}},
  {"data": {"name": "dens"}, "transform": [{"filter": "datum.Trait === 'Char3' && datum.Group === 2"}],
   "mark": {"type": "area", "orient": "horizontal", "color": "#00BFC4", "opacity": 0.8, "interpolate": "monotone"},
   "encoding": {"y": {"field": "Value", "type": "quantitative", "scale": {"domain": [0.585, 1.614]}, "axis": null},
    "x": {"field": "Density", "type": "quantitative", "scale": {"domain": [-1.896, 0.99]}, "axis": null}, "x2": {"datum": 0}}},
  {"data": {"name": "obs"}, "transform": [{"filter": "datum.Trait === 'Char3' && datum.Group === 1"}],
   "mark": {"type": "boxplot", "orient": "vertical", "extent": 1.5, "size": 32, "outliers": false, "ticks": false, "box": {"fill": "#F8766D", "fillOpacity": 0.4, "stroke": "#F8766D", "strokeWidth": 3.3}, "median": {"color": "#F8766D", "thickness": 8}, "rule": {"stroke": "#F8766D", "strokeWidth": 3.3}},
   "encoding": {"x": {"field": "Group", "type": "quantitative", "scale": {"domain": [0.404, 3.29]}, "axis": {"values": [1, 2], "grid": true, "gridColor": "#EBEBEB", "gridWidth": 4, "labels": false, "ticks": false, "domain": false, "title": null}},
    "y": {"field": "Value", "type": "quantitative", "scale": {"domain": [0.585, 1.614]}, "axis": {"orient": "left", "values": [0.6, 0.8, 1.0, 1.2, 1.4, 1.6], "format": ".1f", "grid": true, "gridColor": "#EBEBEB", "gridWidth": 4, "ticks": false, "domain": false, "labelFontSize": 40, "labelColor": "#4D4D4D", "labelFont": "Liberation Sans", "labelPadding": 22, "title": "Value", "titleFontSize": 48, "titleFont": "Liberation Sans", "titleFontWeight": "normal", "titleColor": "black", "titleAngle": 270, "titleAlign": "center", "titleBaseline": "alphabetic", "titleX": -98, "titleY": 513}}}},
  {"data": {"name": "obs"}, "transform": [{"filter": "datum.Trait === 'Char3' && datum.Group === 2"}],
   "mark": {"type": "boxplot", "orient": "vertical", "extent": 1.5, "size": 32, "outliers": false, "ticks": false, "box": {"fill": "#00BFC4", "fillOpacity": 0.4, "stroke": "#00BFC4", "strokeWidth": 3.3}, "median": {"color": "#00BFC4", "thickness": 8}, "rule": {"stroke": "#00BFC4", "strokeWidth": 3.3}},
   "encoding": {"x": {"field": "Group", "type": "quantitative", "scale": {"domain": [0.404, 3.29]}, "axis": null},
    "y": {"field": "Value", "type": "quantitative", "scale": {"domain": [0.585, 1.614]}, "axis": null}}},
  {"data": {"name": "obs"}, "transform": [{"filter": "datum.Trait === 'Char3'"}],
   "mark": {"type": "point", "filled": true, "color": "black", "fillOpacity": 0.5, "stroke": "black", "strokeOpacity": 0.5, "strokeWidth": 2, "size": 110},
   "encoding": {"x": {"field": "Group", "type": "quantitative", "scale": {"domain": [0.404, 3.29]}, "axis": null},
    "y": {"field": "Value", "type": "quantitative", "scale": {"domain": [0.585, 1.614]}, "axis": null}}}
 ]},
{"width": 921, "height": 460,
 "title": {"text": "Char4", "fontSize": 40, "fontWeight": "bold", "color": "#1A1A1A", "anchor": "middle", "frame": "group", "baseline": "alphabetic", "offset": -15},
 "resolve": {"scale": {"x": "independent", "y": "independent"}},
 "layer": [
  {"data": {"name": "dens"}, "transform": [{"filter": "datum.Trait === 'Char4' && datum.Group === 1"}],
   "mark": {"type": "area", "orient": "horizontal", "color": "#F8766D", "opacity": 0.8, "interpolate": "monotone"},
   "encoding": {"y": {"field": "Value", "type": "quantitative", "scale": {"domain": [0.606, 2.491]}, "axis": {"orient": "left", "values": [0.75, 1.25, 1.75, 2.25], "grid": true, "gridColor": "#EBEBEB", "gridWidth": 2, "labels": false, "ticks": false, "domain": false, "title": null}},
    "x": {"field": "Density", "type": "quantitative", "scale": {"domain": [-0.896, 1.99]}, "axis": null}, "x2": {"datum": 0}}},
  {"data": {"name": "dens"}, "transform": [{"filter": "datum.Trait === 'Char4' && datum.Group === 2"}],
   "mark": {"type": "area", "orient": "horizontal", "color": "#00BFC4", "opacity": 0.8, "interpolate": "monotone"},
   "encoding": {"y": {"field": "Value", "type": "quantitative", "scale": {"domain": [0.606, 2.491]}, "axis": null},
    "x": {"field": "Density", "type": "quantitative", "scale": {"domain": [-1.896, 0.99]}, "axis": null}, "x2": {"datum": 0}}},
  {"data": {"name": "obs"}, "transform": [{"filter": "datum.Trait === 'Char4' && datum.Group === 1"}],
   "mark": {"type": "boxplot", "orient": "vertical", "extent": 1.5, "size": 32, "outliers": false, "ticks": false, "box": {"fill": "#F8766D", "fillOpacity": 0.4, "stroke": "#F8766D", "strokeWidth": 3.3}, "median": {"color": "#F8766D", "thickness": 8}, "rule": {"stroke": "#F8766D", "strokeWidth": 3.3}},
   "encoding": {"x": {"field": "Group", "type": "quantitative", "scale": {"domain": [0.404, 3.29]}, "axis": {"values": [1, 2], "grid": true, "gridColor": "#EBEBEB", "gridWidth": 4, "labels": false, "ticks": false, "domain": false, "title": null}},
    "y": {"field": "Value", "type": "quantitative", "scale": {"domain": [0.606, 2.491]}, "axis": {"orient": "left", "values": [1.0, 1.5, 2.0], "format": ".1f", "grid": true, "gridColor": "#EBEBEB", "gridWidth": 4, "ticks": false, "domain": false, "labelFontSize": 40, "labelColor": "#4D4D4D", "labelFont": "Liberation Sans", "labelPadding": 22, "title": null}}}},
  {"data": {"name": "obs"}, "transform": [{"filter": "datum.Trait === 'Char4' && datum.Group === 2"}],
   "mark": {"type": "boxplot", "orient": "vertical", "extent": 1.5, "size": 32, "outliers": false, "ticks": false, "box": {"fill": "#00BFC4", "fillOpacity": 0.4, "stroke": "#00BFC4", "strokeWidth": 3.3}, "median": {"color": "#00BFC4", "thickness": 8}, "rule": {"stroke": "#00BFC4", "strokeWidth": 3.3}},
   "encoding": {"x": {"field": "Group", "type": "quantitative", "scale": {"domain": [0.404, 3.29]}, "axis": null},
    "y": {"field": "Value", "type": "quantitative", "scale": {"domain": [0.606, 2.491]}, "axis": null}}},
  {"data": {"name": "obs"}, "transform": [{"filter": "datum.Trait === 'Char4'"}],
   "mark": {"type": "point", "filled": true, "color": "black", "fillOpacity": 0.5, "stroke": "black", "strokeOpacity": 0.5, "strokeWidth": 2, "size": 110},
   "encoding": {"x": {"field": "Group", "type": "quantitative", "scale": {"domain": [0.404, 3.29]}, "axis": null},
    "y": {"field": "Value", "type": "quantitative", "scale": {"domain": [0.606, 2.491]}, "axis": null}}}
 ]},
{"width": 921, "height": 460,
 "title": {"text": "Char5", "fontSize": 40, "fontWeight": "bold", "color": "#1A1A1A", "anchor": "middle", "frame": "group", "baseline": "alphabetic", "offset": -15},
 "resolve": {"scale": {"x": "independent", "y": "independent"}},
 "layer": [
  {"data": {"name": "dens"}, "transform": [{"filter": "datum.Trait === 'Char5' && datum.Group === 1"}],
   "mark": {"type": "area", "orient": "horizontal", "color": "#F8766D", "opacity": 0.8, "interpolate": "monotone"},
   "encoding": {"y": {"field": "Value", "type": "quantitative", "scale": {"domain": [0.103, 1.868]}, "axis": {"orient": "left", "values": [0.25, 0.75, 1.25, 1.75], "grid": true, "gridColor": "#EBEBEB", "gridWidth": 2, "labels": false, "ticks": false, "domain": false, "title": null}},
    "x": {"field": "Density", "type": "quantitative", "scale": {"domain": [-0.896, 1.99]}, "axis": null}, "x2": {"datum": 0}}},
  {"data": {"name": "dens"}, "transform": [{"filter": "datum.Trait === 'Char5' && datum.Group === 2"}],
   "mark": {"type": "area", "orient": "horizontal", "color": "#00BFC4", "opacity": 0.8, "interpolate": "monotone"},
   "encoding": {"y": {"field": "Value", "type": "quantitative", "scale": {"domain": [0.103, 1.868]}, "axis": null},
    "x": {"field": "Density", "type": "quantitative", "scale": {"domain": [-1.896, 0.99]}, "axis": null}, "x2": {"datum": 0}}},
  {"data": {"name": "obs"}, "transform": [{"filter": "datum.Trait === 'Char5' && datum.Group === 1"}],
   "mark": {"type": "boxplot", "orient": "vertical", "extent": 1.5, "size": 32, "outliers": false, "ticks": false, "box": {"fill": "#F8766D", "fillOpacity": 0.4, "stroke": "#F8766D", "strokeWidth": 3.3}, "median": {"color": "#F8766D", "thickness": 8}, "rule": {"stroke": "#F8766D", "strokeWidth": 3.3}},
   "encoding": {"x": {"field": "Group", "type": "quantitative", "scale": {"domain": [0.404, 3.29]}, "axis": {"values": [1, 2], "grid": true, "gridColor": "#EBEBEB", "gridWidth": 4, "labels": false, "ticks": false, "domain": false, "title": null}},
    "y": {"field": "Value", "type": "quantitative", "scale": {"domain": [0.103, 1.868]}, "axis": {"orient": "left", "values": [0.5, 1.0, 1.5], "format": ".1f", "grid": true, "gridColor": "#EBEBEB", "gridWidth": 4, "ticks": false, "domain": false, "labelFontSize": 40, "labelColor": "#4D4D4D", "labelFont": "Liberation Sans", "labelPadding": 22, "title": null}}}},
  {"data": {"name": "obs"}, "transform": [{"filter": "datum.Trait === 'Char5' && datum.Group === 2"}],
   "mark": {"type": "boxplot", "orient": "vertical", "extent": 1.5, "size": 32, "outliers": false, "ticks": false, "box": {"fill": "#00BFC4", "fillOpacity": 0.4, "stroke": "#00BFC4", "strokeWidth": 3.3}, "median": {"color": "#00BFC4", "thickness": 8}, "rule": {"stroke": "#00BFC4", "strokeWidth": 3.3}},
   "encoding": {"x": {"field": "Group", "type": "quantitative", "scale": {"domain": [0.404, 3.29]}, "axis": null},
    "y": {"field": "Value", "type": "quantitative", "scale": {"domain": [0.103, 1.868]}, "axis": null}}},
  {"data": {"name": "obs"}, "transform": [{"filter": "datum.Trait === 'Char5'"}],
   "mark": {"type": "point", "filled": true, "color": "black", "fillOpacity": 0.5, "stroke": "black", "strokeOpacity": 0.5, "strokeWidth": 2, "size": 110},
   "encoding": {"x": {"field": "Group", "type": "quantitative", "scale": {"domain": [0.404, 3.29]}, "axis": null},
    "y": {"field": "Value", "type": "quantitative", "scale": {"domain": [0.103, 1.868]}, "axis": null}}}
 ]},
{"width": 921, "height": 460,
 "title": {"text": "Char6", "fontSize": 40, "fontWeight": "bold", "color": "#1A1A1A", "anchor": "middle", "frame": "group", "baseline": "alphabetic", "offset": -15},
 "resolve": {"scale": {"x": "independent", "y": "independent"}},
 "layer": [
  {"data": {"name": "dens"}, "transform": [{"filter": "datum.Trait === 'Char6' && datum.Group === 1"}],
   "mark": {"type": "area", "orient": "horizontal", "color": "#F8766D", "opacity": 0.8, "interpolate": "monotone"},
   "encoding": {"y": {"field": "Value", "type": "quantitative", "scale": {"domain": [0.766, 1.473]}, "axis": {"orient": "left", "values": [0.9, 1.1, 1.3], "grid": true, "gridColor": "#EBEBEB", "gridWidth": 2, "labels": false, "ticks": false, "domain": false, "title": null}},
    "x": {"field": "Density", "type": "quantitative", "scale": {"domain": [-0.896, 1.99]}, "axis": null}, "x2": {"datum": 0}}},
  {"data": {"name": "dens"}, "transform": [{"filter": "datum.Trait === 'Char6' && datum.Group === 2"}],
   "mark": {"type": "area", "orient": "horizontal", "color": "#00BFC4", "opacity": 0.8, "interpolate": "monotone"},
   "encoding": {"y": {"field": "Value", "type": "quantitative", "scale": {"domain": [0.766, 1.473]}, "axis": null},
    "x": {"field": "Density", "type": "quantitative", "scale": {"domain": [-1.896, 0.99]}, "axis": null}, "x2": {"datum": 0}}},
  {"data": {"name": "obs"}, "transform": [{"filter": "datum.Trait === 'Char6' && datum.Group === 1"}],
   "mark": {"type": "boxplot", "orient": "vertical", "extent": 1.5, "size": 32, "outliers": false, "ticks": false, "box": {"fill": "#F8766D", "fillOpacity": 0.4, "stroke": "#F8766D", "strokeWidth": 3.3}, "median": {"color": "#F8766D", "thickness": 8}, "rule": {"stroke": "#F8766D", "strokeWidth": 3.3}},
   "encoding": {"x": {"field": "Group", "type": "quantitative", "scale": {"domain": [0.404, 3.29]}, "axis": {"values": [1, 2], "grid": true, "gridColor": "#EBEBEB", "gridWidth": 4, "labels": false, "ticks": false, "domain": false, "title": null}},
    "y": {"field": "Value", "type": "quantitative", "scale": {"domain": [0.766, 1.473]}, "axis": {"orient": "left", "values": [0.8, 1.0, 1.2, 1.4], "format": ".1f", "grid": true, "gridColor": "#EBEBEB", "gridWidth": 4, "ticks": false, "domain": false, "labelFontSize": 40, "labelColor": "#4D4D4D", "labelFont": "Liberation Sans", "labelPadding": 22, "title": null}}}},
  {"data": {"name": "obs"}, "transform": [{"filter": "datum.Trait === 'Char6' && datum.Group === 2"}],
   "mark": {"type": "boxplot", "orient": "vertical", "extent": 1.5, "size": 32, "outliers": false, "ticks": false, "box": {"fill": "#00BFC4", "fillOpacity": 0.4, "stroke": "#00BFC4", "strokeWidth": 3.3}, "median": {"color": "#00BFC4", "thickness": 8}, "rule": {"stroke": "#00BFC4", "strokeWidth": 3.3}},
   "encoding": {"x": {"field": "Group", "type": "quantitative", "scale": {"domain": [0.404, 3.29]}, "axis": null},
    "y": {"field": "Value", "type": "quantitative", "scale": {"domain": [0.766, 1.473]}, "axis": null}}},
  {"data": {"name": "obs"}, "transform": [{"filter": "datum.Trait === 'Char6'"}],
   "mark": {"type": "point", "filled": true, "color": "black", "fillOpacity": 0.5, "stroke": "black", "strokeOpacity": 0.5, "strokeWidth": 2, "size": 110},
   "encoding": {"x": {"field": "Group", "type": "quantitative", "scale": {"domain": [0.404, 3.29]}, "axis": null},
    "y": {"field": "Value", "type": "quantitative", "scale": {"domain": [0.766, 1.473]}, "axis": null}}}
 ]},
{"width": 921, "height": 460,
 "title": {"text": "Yield", "fontSize": 40, "fontWeight": "bold", "color": "#1A1A1A", "anchor": "middle", "frame": "group", "baseline": "alphabetic", "offset": -15},
 "resolve": {"scale": {"x": "independent", "y": "independent"}},
 "layer": [
  {"data": {"name": "dens"}, "transform": [{"filter": "datum.Trait === 'Yield' && datum.Group === 1"}],
   "mark": {"type": "area", "orient": "horizontal", "color": "#F8766D", "opacity": 0.8, "interpolate": "monotone"},
   "encoding": {"y": {"field": "Value", "type": "quantitative", "scale": {"domain": [0.575, 1.721]}, "axis": {"orient": "left", "values": [0.75, 1.05, 1.35, 1.65], "grid": true, "gridColor": "#EBEBEB", "gridWidth": 2, "labels": false, "ticks": false, "domain": false, "title": null}},
    "x": {"field": "Density", "type": "quantitative", "scale": {"domain": [-0.896, 1.99]}, "axis": null}, "x2": {"datum": 0}}},
  {"data": {"name": "dens"}, "transform": [{"filter": "datum.Trait === 'Yield' && datum.Group === 2"}],
   "mark": {"type": "area", "orient": "horizontal", "color": "#00BFC4", "opacity": 0.8, "interpolate": "monotone"},
   "encoding": {"y": {"field": "Value", "type": "quantitative", "scale": {"domain": [0.575, 1.721]}, "axis": null},
    "x": {"field": "Density", "type": "quantitative", "scale": {"domain": [-1.896, 0.99]}, "axis": null}, "x2": {"datum": 0}}},
  {"data": {"name": "obs"}, "transform": [{"filter": "datum.Trait === 'Yield' && datum.Group === 1"}],
   "mark": {"type": "boxplot", "orient": "vertical", "extent": 1.5, "size": 32, "outliers": false, "ticks": false, "box": {"fill": "#F8766D", "fillOpacity": 0.4, "stroke": "#F8766D", "strokeWidth": 3.3}, "median": {"color": "#F8766D", "thickness": 8}, "rule": {"stroke": "#F8766D", "strokeWidth": 3.3}},
   "encoding": {"x": {"field": "Group", "type": "quantitative", "scale": {"domain": [0.404, 3.29]}, "axis": {"values": [1, 2], "grid": true, "gridColor": "#EBEBEB", "gridWidth": 4, "labels": false, "ticks": false, "domain": false, "title": null}},
    "y": {"field": "Value", "type": "quantitative", "scale": {"domain": [0.575, 1.721]}, "axis": {"orient": "left", "values": [0.6, 0.9, 1.2, 1.5], "format": ".1f", "grid": true, "gridColor": "#EBEBEB", "gridWidth": 4, "ticks": false, "domain": false, "labelFontSize": 40, "labelColor": "#4D4D4D", "labelFont": "Liberation Sans", "labelPadding": 22, "title": null}}}},
  {"data": {"name": "obs"}, "transform": [{"filter": "datum.Trait === 'Yield' && datum.Group === 2"}],
   "mark": {"type": "boxplot", "orient": "vertical", "extent": 1.5, "size": 32, "outliers": false, "ticks": false, "box": {"fill": "#00BFC4", "fillOpacity": 0.4, "stroke": "#00BFC4", "strokeWidth": 3.3}, "median": {"color": "#00BFC4", "thickness": 8}, "rule": {"stroke": "#00BFC4", "strokeWidth": 3.3}},
   "encoding": {"x": {"field": "Group", "type": "quantitative", "scale": {"domain": [0.404, 3.29]}, "axis": null},
    "y": {"field": "Value", "type": "quantitative", "scale": {"domain": [0.575, 1.721]}, "axis": null}}},
  {"data": {"name": "obs"}, "transform": [{"filter": "datum.Trait === 'Yield'"}],
   "mark": {"type": "point", "filled": true, "color": "black", "fillOpacity": 0.5, "stroke": "black", "strokeOpacity": 0.5, "strokeWidth": 2, "size": 110},
   "encoding": {"x": {"field": "Group", "type": "quantitative", "scale": {"domain": [0.404, 3.29]}, "axis": null},
    "y": {"field": "Value", "type": "quantitative", "scale": {"domain": [0.575, 1.721]}, "axis": null}}}
 ]}
]
}
